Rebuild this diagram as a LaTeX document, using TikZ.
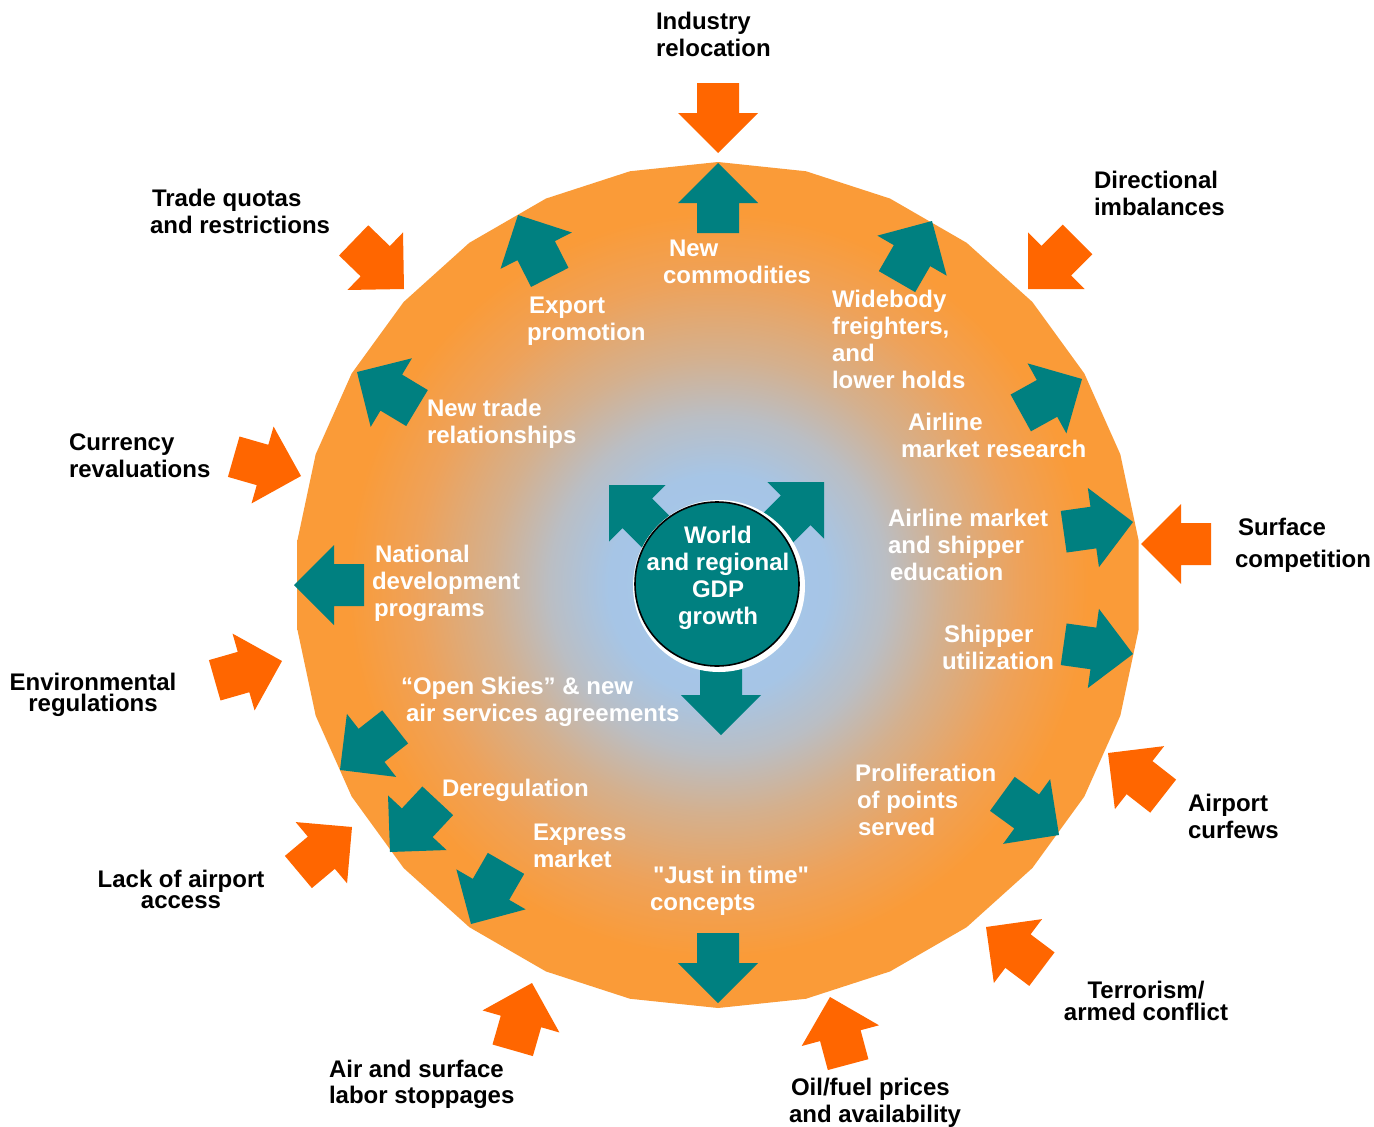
\documentclass[tikz,border=0pt]{standalone}
\usepackage{fontspec}
\newfontfamily\lsans{Liberation Sans}
\definecolor{teal0}{RGB}{0,128,128}
\definecolor{orng}{RGB}{255,102,0}
\definecolor{cA}{RGB}{165,200,236}
\definecolor{cB}{RGB}{166,197,230}
\definecolor{cC}{RGB}{186,190,196}
\definecolor{cD}{RGB}{212,176,142}
\definecolor{cE}{RGB}{238,162,90}
\definecolor{cF}{RGB}{250,155,56}
\pgfdeclareradialshading{ringshade}{\pgfpoint{0bp}{0bp}}{color(0bp)=(cA); color(6.5bp)=(cB); color(10bp)=(cC); color(13.5bp)=(cD); color(18bp)=(cE); color(22bp)=(cF); color(50bp)=(cF)}
\newcommand\mystrut{\rule{0pt}{19pt}}
\tikzset{
  barrow/.pic={\fill[#1] (0,0) -- (-40,40) -- (-40,21) -- (-70,21) -- (-70,-21) -- (-40,-21) -- (-40,-40) -- cycle;},
  barrowlong/.pic={\fill[#1] (0,0) -- (-40,40) -- (-40,21) -- (-100,21) -- (-100,-21) -- (-40,-21) -- (-40,-40) -- cycle;},
  tlab/.style={inner sep=0pt, outer sep=0pt, anchor=north west, align=left, text=black,
    font={\lsans\fontsize{24}{27}\selectfont\bfseries}},
  tlabc/.style={tlab, anchor=north, align=center},
  tight/.style={font={\lsans\fontsize{24}{#1}\selectfont\bfseries\lineskiplimit=-100pt}},
  wlab/.style={tlab, text=white},
}
\begin{document}
\begin{tikzpicture}[x=1pt,y=-1pt]
\fill[white] (0,0) rectangle (1374,1127);
\useasboundingbox (0,0) rectangle (1374,1127);

% shaded disc (polygon)
\begin{scope}[shift={(718,585)}]
  \shade[shading=ringshade] (90:423) \foreach \k in {1,...,29}{ -- ({90+12*\k}:423)} -- cycle;
\end{scope}

% centre arrows
\pic[rotate=135] at (609,485) {barrowlong=teal0};
\pic[rotate=45] at (824,482) {barrowlong=teal0};
\pic[rotate=-90] at (721,735) {barrowlong=teal0};

% centre circle
\fill[white] (719,586) circle (86);
\node[circle, minimum size=164, inner sep=0pt, fill=teal0, draw=black, line width=1.6pt] (gdp) at (717,584) {};
\node[tlabc, text=white] (gdptext) at (718,524) {\mystrut World\\and regional\\GDP\\growth};

% teal outward arrows
\pic[rotate=90] at (718,163) {barrow=teal0};
\pic[rotate=117] at (518,215) {barrow=teal0};
\pic[rotate=149] at (357,372) {barrow=teal0};
\pic[rotate=60] at (932,221) {barrow=teal0};
\pic[rotate=29] at (1082,379) {barrow=teal0};
\pic[rotate=8] at (1133,522) {barrow=teal0};
\pic[rotate=-8] at (1133,654) {barrow=teal0};
\pic[rotate=-36] at (1059,835) {barrow=teal0};
\pic[rotate=-90] at (718,1003) {barrow=teal0};
\pic[rotate=-120] at (471,924) {barrow=teal0};
\pic[rotate=-133] at (390,852) {barrow=teal0};
\pic[rotate=-142] at (340,770) {barrow=teal0};
\pic[rotate=180] at (294,585) {barrow=teal0};

% orange inward arrows
\pic[rotate=-90] at (718,153) {barrow=orng};
\pic[rotate=-44] at (404,289) {barrow=orng};
\pic[rotate=-135] at (1028,289) {barrow=orng};
\pic[rotate=-16] at (301,476) {barrow=orng};
\pic[rotate=180] at (1141,544) {barrow=orng};
\pic[rotate=16] at (282,661) {barrow=orng};
\pic[rotate=40] at (352,827) {barrow=orng};
\pic[rotate=74] at (532,983) {barrow=orng};
\pic[rotate=105] at (830,997) {barrow=orng};
\pic[rotate=143] at (986,927) {barrow=orng};
\pic[rotate=142] at (1108,753) {barrow=orng};

% white labels inside
\node[wlab] (newcom) at (663,237) {\mystrut\hspace*{6pt}New\\commodities};
\node[wlab] (export) at (527,294) {\mystrut\hspace*{2pt}Export\\promotion};
\node[wlab] (newtrade) at (427,397) {\mystrut New trade\\relationships};
\node[wlab] (widebody) at (832,288) {\mystrut Widebody\\freighters,\\and\\lower holds};
\node[wlab] (amr) at (901,411) {\mystrut\hspace*{7pt}Airline\\market research};
\node[wlab] (amse) at (888,507) {\mystrut Airline market\\and shipper\\\hspace*{2pt}education};
\node[wlab] (shipper) at (942,623) {\mystrut\hspace*{2pt}Shipper\\utilization};
\node[wlab] (national) at (372,543) {\mystrut\hspace*{3pt}National\\development\\\hspace*{2pt}programs};
\node[wlab] (openskies) at (401,675) {\mystrut “Open Skies” \& new\\\hspace*{5pt}air services agreements};
\node[wlab] (dereg) at (442,777) {\mystrut Deregulation};
\node[wlab] (express) at (533,821) {\mystrut Express\\market};
\node[wlab] (jit) at (650,864) {\mystrut\hspace*{3pt}"Just in time"\\concepts};
\node[wlab] (prolif) at (855,762) {\mystrut Proliferation\\\hspace*{2pt}of points\\\hspace*{3pt}served};

% black labels outside
\node[tlab] (industry) at (656,10) {\mystrut Industry\\relocation};
\node[tlab] (trade) at (150,187) {\mystrut\hspace*{2pt}Trade quotas\\and restrictions};
\node[tlab] (direc) at (1094,169) {\mystrut Directional\\imbalances};
\node[tlab] (currency) at (69,431) {\mystrut Currency\\revaluations};
\node[tlab, font={\lsans\fontsize{24}{32}\selectfont\bfseries}] (surface) at (1235,516) {\mystrut\hspace*{3pt}Surface\\competition};
\node[tlabc, tight=21] (env) at (93,671) {\mystrut Environmental\\regulations};
\node[tlabc, tight=21] (lack) at (181,868) {\mystrut Lack of airport\\access};
\node[tlab, font={\lsans\fontsize{24}{26}\selectfont\bfseries}] (airsurf) at (329,1058) {\mystrut Air and surface\\labor stoppages};
\node[tlab] (oil) at (789,1076) {\mystrut\hspace*{2pt}Oil/fuel prices\\and availability};
\node[tlabc, tight=22] (terror) at (1146,979) {\mystrut Terrorism/\\armed conflict};
\node[tlab] (curfew) at (1188,792) {\mystrut Airport\\curfews};
\end{tikzpicture}
\end{document}
